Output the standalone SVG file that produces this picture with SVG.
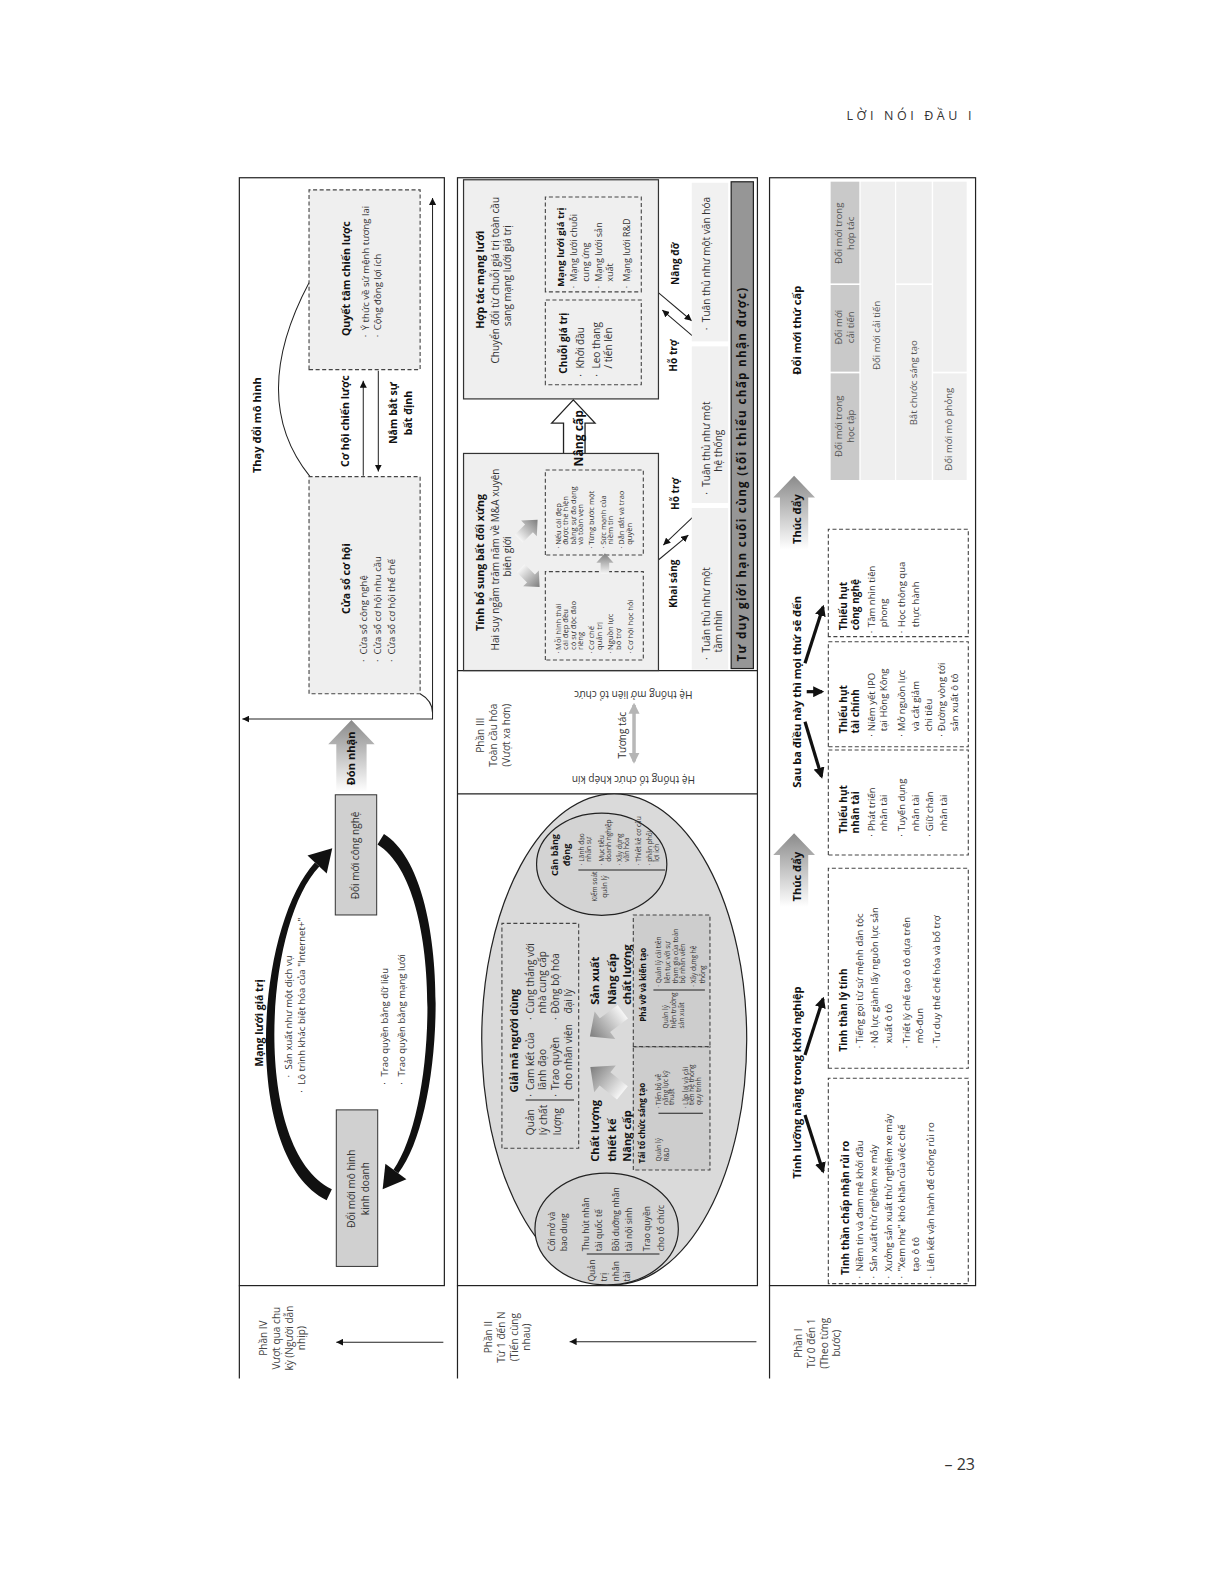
<svg xmlns="http://www.w3.org/2000/svg" width="1224" height="1584" viewBox="0 0 1224 1584">
<style>
text{font-family:"Open Sans","Noto Sans","DejaVu Sans",sans-serif;fill:#333}
.b{font-weight:700;fill:#111}
.m{text-anchor:middle}
.f65{font-size:6.5px}.f75{font-size:7.5px}.f8{font-size:8px}.f85{font-size:8.5px}.f9{font-size:9px}.f95{font-size:9.5px}.f10{font-size:10px}.f105{font-size:10.5px}.f11{font-size:11px}.f12{font-size:12px}
.lab{font-size:10px;fill:#444;text-anchor:middle}
.fr{fill:none;stroke:#222;stroke-width:1.2}
.ln{fill:none;stroke:#222;stroke-width:1}
.dsh{fill:#efefef;stroke:#444;stroke-width:1.1;stroke-dasharray:4 2.5}
.dshw{fill:none;stroke:#444;stroke-width:1.1;stroke-dasharray:4 2.5}
.dshg{fill:#cdcdcd;stroke:#444;stroke-width:1.1;stroke-dasharray:4 2.5}
.sol{fill:#efefef;stroke:#333;stroke-width:1.2}
.gb{fill:#d0d0d0;stroke:#333;stroke-width:1}
.tk{fill:none;stroke:#111;stroke-width:3.2}
.hd{fill:#c9c9c9}.cl{fill:#efefef}
.tt{font-size:9.5px;fill:#555;text-anchor:middle}
</style>
<defs>
<marker id="ah" viewBox="0 0 10 10" refX="10" refY="5" markerWidth="7" markerHeight="7" markerUnits="userSpaceOnUse" orient="auto-start-reverse"><path d="M0,0 L10,5 L0,10 Z" fill="#111"/></marker>
<marker id="ahM" viewBox="0 0 10 10" refX="8" refY="5" markerWidth="9" markerHeight="9" markerUnits="userSpaceOnUse" orient="auto-start-reverse"><path d="M0,0 L10,5 L0,10 Z" fill="#111"/></marker>
<marker id="ahL" viewBox="0 0 10 10" refX="8" refY="5" markerWidth="11" markerHeight="11" markerUnits="userSpaceOnUse" orient="auto"><path d="M0,0 L10,5 L0,10 Z" fill="#111"/></marker>
<marker id="ahG" viewBox="0 0 10 10" refX="8" refY="5" markerWidth="11" markerHeight="11" markerUnits="userSpaceOnUse" orient="auto-start-reverse"><path d="M0,0 L10,5 L0,10 Z" fill="#b5b5b5"/></marker>
<linearGradient id="gBlk" x1="0" y1="0" x2="1" y2="0"><stop offset="0" stop-color="#ffffff"/><stop offset="1" stop-color="#8a8a8a"/></linearGradient>
<linearGradient id="gSm" x1="0" y1="0" x2="1" y2="0"><stop offset="0" stop-color="#f6f6f6"/><stop offset="1" stop-color="#7d7d7d"/></linearGradient>
<path id="sa" d="M-12,-5 L1,-5 L1,-10 L12,0 L1,10 L1,5 L-12,5 Z" fill="url(#gSm)"/>
</defs>

<text x="975" y="120" text-anchor="end" style="font-size:12.5px;letter-spacing:3.6px;fill:#333">LỜI NÓI ĐẦU I</text>
<text x="975" y="1470" text-anchor="end" style="font-size:16px;fill:#333">– 23</text>

<g transform="scale(1.0099)">
<g transform="translate(0,1568) rotate(-90)">

<g id="frames">
<rect class="fr" x="295" y="237" width="1097" height="203"/>
<rect class="fr" x="295" y="453" width="1097" height="297"/>
<rect class="fr" x="295" y="762" width="1097" height="204"/>
<path class="fr" d="M203,237 H295 M203,453 H295 M203,762 H295 M782,453 V750 M904,453 V750"/>
</g>

<g id="labels">
<text class="lab" x="243" y="264">Phần IV</text>
<text class="lab" x="243" y="277">Vượt qua chu</text>
<text class="lab" x="243" y="290">kỳ (Người dẫn</text>
<text class="lab" x="243" y="302.5">nhịp)</text>
<text class="lab" x="244" y="487">Phần II</text>
<text class="lab" x="244" y="500">Từ 1 đến N</text>
<text class="lab" x="244" y="513">(Tiến cùng</text>
<text class="lab" x="244" y="525">nhau)</text>
<text class="lab" x="238" y="794">Phần I</text>
<text class="lab" x="238" y="807">Từ 0 đến 1</text>
<text class="lab" x="238" y="820">(Theo từng</text>
<text class="lab" x="238" y="832">bước)</text>
</g>

<g id="connectors">
<line class="ln" x1="239" y1="439" x2="239" y2="333" marker-end="url(#ah)"/>
<line class="ln" x1="239.5" y1="749" x2="239.5" y2="564" marker-end="url(#ah)"/>
<path class="ln" d="M1096,307 Q1173,245 1288,306"/>
<line class="ln" x1="1097" y1="359.7" x2="1191" y2="359.7" marker-end="url(#ah)"/>
<line class="ln" x1="1201" y1="374.6" x2="1101" y2="374.6" marker-end="url(#ah)"/>
<path class="ln" d="M1372,428.3 H856 V240" marker-start="url(#ah)" marker-end="url(#ah)"/>
<path class="ln" d="M881,416 C876,425 870,428.3 862,428.3"/>
<path fill="#111" d="M379.6,323.4 C421,239 648,251.5 714,311.8 L710,316.2 C652,260.5 429,249 390.4,328.6 Z"/>
<path fill="#111" d="M703.1,323.5 L728.1,329 L720.9,304.5 Z"/>
<path fill="#111" d="M742.1,380.2 C699,449.5 468,442.5 406.2,394.4 L409.8,389.6 C472,433.5 691,440.5 731.9,373.8 Z"/>
<path fill="#111" d="M415.7,381.6 L390.3,378.9 L400.3,402.4 Z"/>
<path d="M1238,538 Q1279,503 1320,535" fill="none" stroke="#111" stroke-width="2.2" marker-start="url(#ahM)" marker-end="url(#ahM)"/>
<path d="M1240,536 Q1279,496 1318,533 Q1279,508 1240,536 Z" fill="#111"/>
<line class="ln" x1="1278.2" y1="651.9" x2="1250.4" y2="684.9" marker-end="url(#ah)"/>
<line class="ln" x1="1234.6" y1="686.5" x2="1261" y2="655.8" marker-end="url(#ah)"/>
<line class="ln" x1="1013.5" y1="651.9" x2="1038.2" y2="681.6" marker-end="url(#ah)"/>
<line class="ln" x1="1056.4" y1="686.5" x2="1028.3" y2="656.8" marker-end="url(#ah)"/>
<line x1="814" y1="627.8" x2="870" y2="627.8" stroke="#b8b8b8" stroke-width="3.5" marker-start="url(#ahG)" marker-end="url(#ahG)"/>
<line class="tk" x1="464" y1="797.1" x2="408" y2="815" marker-end="url(#ahL)"/>
<line class="tk" x1="523.3" y1="797.1" x2="579" y2="815" marker-end="url(#ahL)"/>
<line class="tk" x1="853.4" y1="797.1" x2="799" y2="813.5" marker-end="url(#ahL)"/>
<line class="tk" x1="883.1" y1="798.8" x2="883.1" y2="814" stroke-width="4" marker-end="url(#ahL)"/>
<line class="tk" x1="911.2" y1="797.1" x2="967" y2="815" marker-end="url(#ahL)"/>
</g>

<g id="n-quyet-tam">
<rect class="dsh" x="1202" y="306" width="178" height="110"/>
<text class="b m f105" x="1292" y="347">Quyết tâm chiến lược</text>
<text class="f95" x="1234" y="365">·</text><text class="f95" x="1241" y="365">Ý thức về sứ mệnh tương lai</text>
<text class="f95" x="1234" y="377.5">·</text><text class="f95" x="1241" y="377.5">Cộng đồng lợi ích</text>
</g>
<g id="n-cua-so">
<rect class="dsh" x="881" y="306" width="215" height="110"/>
<text class="b m f105" x="995" y="347">Cửa sổ cơ hội</text>
<text class="f95" x="912.5" y="363.5">·</text><text class="f95" x="920" y="363.5">Cửa sổ công nghệ</text>
<text class="f95" x="912.5" y="377.5">·</text><text class="f95" x="920" y="377.5">Cửa sổ cơ hội nhu cầu</text>
<text class="f95" x="912.5" y="391.5">·</text><text class="f95" x="920" y="391.5">Cửa sổ cơ hội thể chế</text>
</g>
<g id="t-row4">
<text class="b m f11" x="1147" y="258">Thay đổi mô hình</text>
<text class="b m f105" x="1151" y="345.5">Cơ hội chiến lược</text>
<text class="b m f105" x="1159" y="393.5">Nắm bắt sự</text>
<text class="b m f105" x="1159" y="408">bất định</text>
<text class="b m f105" x="555" y="260">Mạng lưới giá trị</text>
<text class="f95" x="501" y="289">·</text><text class="f95" x="509" y="289">Sản xuất như một dịch vụ</text>
<text class="f95" x="486" y="302">·</text><text class="f95" x="494" y="302">Lộ trình khác biệt hóa của "Internet+"</text>
<text class="f95" x="494" y="384.5">·</text><text class="f95" x="502" y="384.5">Trao quyền bằng dữ liệu</text>
<text class="f95" x="494" y="401">·</text><text class="f95" x="502" y="401">Trao quyền bằng mạng lưới</text>
</g>
<g id="n-don-nhan">
<path fill="url(#gBlk)" d="M784,333 L831,333 L831,325 L855,348 L831,371 L831,363 L784,363 Z"/>
<text class="b m f11" x="817" y="352">Đón nhận</text>
</g>
<g id="n-cong-nghe">
<rect class="gb" x="662" y="332" width="119" height="41"/>
<text class="m f10" x="721" y="355.5">Đổi mới công nghệ</text>
</g>
<g id="n-kinh-doanh">
<rect class="gb" x="314" y="333" width="155" height="41"/>
<text class="m f10" x="391" y="352">Đổi mới mô hình</text>
<text class="m f10" x="391" y="365">kinh doanh</text>
</g>

<g id="n-hop-tac">
<rect class="sol" x="1173" y="459" width="217" height="193"/>
<text class="b m f105" x="1291" y="479.5">Hợp tác mạng lưới</text>
<text class="m f10" x="1290.5" y="494">Chuyển đổi từ chuỗi giá trị toàn cầu</text>
<text class="m f10" x="1295" y="505.5">sang mạng lưới giá trị</text>
<rect class="dsh" x="1187" y="540" width="84" height="95"/>
<text class="b f10" x="1198" y="561.5">Chuỗi giá trị</text>
<text class="f10" x="1195" y="578">·</text><text class="f10" x="1203" y="578">Khởi đầu</text>
<text class="f10" x="1195" y="594.6">·</text><text class="f10" x="1203" y="594.6">Leo thang</text>
<text class="f10" x="1203" y="606">/ tiến lên</text>
<rect class="dsh" x="1279" y="540" width="94" height="95"/>
<text class="b f95" x="1284" y="558">Mạng lưới giá trị</text>
<text class="f9" x="1282.5" y="571.2">·</text><text class="f9" x="1289" y="571.2">Mạng lưới chuỗi</text>
<text class="f9" x="1289" y="582.8">cung ứng</text>
<text class="f9" x="1282.5" y="595.9">·</text><text class="f9" x="1289" y="595.9">Mạng lưới sản</text>
<text class="f9" x="1289" y="607.4">xuất</text>
<text class="f9" x="1282.5" y="623.9">·</text><text class="f9" x="1289" y="623.9">Mạng lưới R&amp;D</text>
</g>
<g id="n-nang-cap">
<path d="M1119,558 L1149,558 L1149,546.3 L1172,567.7 L1149,589.2 L1149,579.3 L1119,579.3" fill="#fff" stroke="#222" stroke-width="1.3"/>
</g>
<g id="n-tinh-bo-sung">
<rect class="sol" x="904" y="459" width="215" height="193"/>
<text class="b m f105" x="1011" y="479.5">Tính bổ sung bất đối xứng</text>
<text class="m f10" x="1014" y="494">Hai suy ngẫm trăm năm về M&amp;A xuyên</text>
<text class="m f10" x="1017" y="505.5">biên giới</text>
<rect class="dsh" x="914.5" y="540" width="87.5" height="97"/>
<text class="f75" x="921" y="555.3">·</text><text class="f75" x="924.5" y="555.3">Mỗi hình thái</text>
<text class="f75" x="924.5" y="562.6">cái đẹp đều</text>
<text class="f75" x="924.5" y="570.2">có sự độc đáo</text>
<text class="f75" x="924.5" y="577.5">riêng</text>
<text class="f75" x="921" y="588.4">·</text><text class="f75" x="924.5" y="588.4">Cơ chế</text>
<text class="f75" x="924.5" y="595.7">quản trị</text>
<text class="f75" x="921" y="607.2">·</text><text class="f75" x="924.5" y="607.2">Nguồn lực</text>
<text class="f75" x="924.5" y="614.8">bổ trợ</text>
<text class="f75" x="921" y="626.3">·</text><text class="f75" x="924.5" y="626.3">Cơ hội học hỏi</text>
<rect class="dsh" x="1018.4" y="540" width="84.2" height="97"/>
<text class="f75" x="1025" y="555.3">·</text><text class="f75" x="1028.5" y="555.3">Nếu cái đẹp</text>
<text class="f75" x="1028.5" y="562.6">được thể hiện</text>
<text class="f75" x="1028.5" y="570.2">bằng sự đa dạng</text>
<text class="f75" x="1028.5" y="577.5">và toàn vẹn</text>
<text class="f75" x="1025" y="588.4">·</text><text class="f75" x="1028.5" y="588.4">Từng bước một</text>
<text class="f75" x="1025" y="600">·</text><text class="f75" x="1028.5" y="600">Sức mạnh của</text>
<text class="f75" x="1028.5" y="607.2">niềm tin</text>
<text class="f75" x="1025" y="618.1">·</text><text class="f75" x="1028.5" y="618.1">Dẫn dắt và trao</text>
<text class="f75" x="1028.5" y="625.7">quyền</text>
<use href="#sa" transform="translate(996,525) rotate(135) scale(1.1)"/>
<use href="#sa" transform="translate(1044,523) rotate(45) scale(1.1)"/>
<use href="#sa" transform="translate(1010,599) scale(0.85)"/>
</g>
<text class="b m f12" x="1134" y="577">Nâng cấp</text>

<g id="n-panels">
<rect fill="#f1f1f1" x="1230" y="685" width="157" height="36"/>
<rect fill="#f1f1f1" x="1070" y="685" width="155" height="36"/>
<rect fill="#f1f1f1" x="905" y="685" width="160" height="36"/>
<text class="f10" x="1241" y="703">·</text><text class="f10" x="1249" y="703">Tuân thủ như một văn hóa</text>
<text class="f10" x="1078" y="703">·</text><text class="f10" x="1086" y="703">Tuân thủ như một</text>
<text class="f10" x="1101" y="714.5">hệ thống</text>
<text class="f10" x="914.5" y="703">·</text><text class="f10" x="922" y="703">Tuân thủ như một</text>
<text class="f10" x="922" y="714.5">tầm nhìn</text>
<text class="b m f10" x="1307" y="672">Nâng đỡ</text>
<text class="b m f10" x="1216" y="670.5">Hỗ trợ</text>
<text class="b m f10" x="1079" y="672">Hỗ trợ</text>
<text class="b m f10" x="990" y="670.5">Khai sáng</text>
</g>
<g id="n-bar">
<rect x="906" y="724" width="482" height="22" fill="#969696" stroke="#222" stroke-width="1.2"/>
<text class="b m" style="font-size:11.5px" x="1098" y="739" textLength="370" lengthAdjust="spacing">Tư duy giới hạn cuối cùng (tối thiểu chấp nhận được)</text>
</g>

<g id="n-phan3">
<text class="lab" x="840" y="479">Phần III</text>
<text class="lab" x="840" y="492">Toàn cầu hóa</text>
<text class="lab" x="840" y="505">(Vượt xa hơn)</text>
<text class="m f10" x="840" y="619.5">Tương tác</text>
</g>

<g id="n-oval">
<ellipse cx="539" cy="608.2" rx="243" ry="131.2" fill="#dadada" stroke="#222" stroke-width="1.2"/>
</g>
<g id="n-can-bang">
<ellipse cx="712.3" cy="595.8" rx="50.6" ry="64.5" fill="#d3d3d3" stroke="#222" stroke-width="1.2"/>
<text class="b m f9" x="721.4" y="553">Cân bằng</text>
<text class="b m f9" x="721.4" y="564.5">động</text>
<text class="m f65" x="690" y="591.5">Kiểm soát</text>
<text class="m f65" x="690" y="600.8">quản lý</text>
<line class="ln" x1="706.5" y1="572.7" x2="706.5" y2="658.5"/>
<text class="f65" x="711" y="578.3">·</text><text class="f65" x="714.8" y="578.3">Lãnh đạo</text>
<text class="f65" x="714.8" y="584.9">nhân sự</text>
<text class="f65" x="711" y="598">·</text><text class="f65" x="714.8" y="598">Mục tiêu</text>
<text class="f65" x="714.8" y="604.6">doanh nghiệp</text>
<text class="f65" x="711" y="616">·</text><text class="f65" x="714.8" y="616">Xây dựng</text>
<text class="f65" x="714.8" y="622.6">văn hóa</text>
<text class="f65" x="711" y="634.3">·</text><text class="f65" x="714.8" y="634.3">Thiết kế cơ cấu</text>
<text class="f65" x="711" y="645.8">·</text><text class="f65" x="714.8" y="645.8">phân phối</text>
<text class="f65" x="714.8" y="652.4">lợi ích</text>
</g>
<g id="n-nhan-tai">
<ellipse cx="351" cy="600.7" rx="55.3" ry="71" fill="#d3d3d3" stroke="#222" stroke-width="1.2"/>
<text class="f85" x="299" y="589.4">Quản</text>
<text class="f85" x="299" y="601">trị</text>
<text class="f85" x="299" y="612.5">nhân</text>
<text class="f85" x="299" y="624">tài</text>
<line class="ln" x1="326.3" y1="581" x2="326.3" y2="653"/>
<text class="f85" x="329" y="549.8">Cởi mở và</text>
<text class="f85" x="329" y="561.3">bao dung</text>
<text class="f85" x="329" y="582.8">Thu hút nhân</text>
<text class="f85" x="329" y="596">tài quốc tế</text>
<text class="f85" x="329" y="612.5">Bồi dưỡng nhân</text>
<text class="f85" x="329" y="625.7">tài nội sinh</text>
<text class="f85" x="329" y="643.8">Trao quyền</text>
<text class="f85" x="329" y="657">cho tổ chức</text>
</g>
<g id="n-giai-ma">
<rect class="dshw" x="431" y="497" width="222.7" height="76"/>
<text class="b m f105" x="537.5" y="512.5">Giải mã người dùng</text>
<text class="f10" x="444" y="528.8">Quản</text>
<text class="f10" x="444" y="542">lý chất</text>
<text class="f10" x="444" y="555.2">lượng</text>
<line class="ln" x1="478.8" y1="520.5" x2="478.8" y2="568.4"/>
<text class="f10" x="482" y="528.8">·</text><text class="f10" x="488.7" y="528.8">Cam kết của</text>
<text class="f10" x="488.7" y="540.3">lãnh đạo</text>
<text class="f10" x="482" y="553.5">·</text><text class="f10" x="488.7" y="553.5">Trao quyền</text>
<text class="f10" x="488.7" y="566.8">cho nhân viên</text>
<text class="f10" x="558" y="528.8">·</text><text class="f10" x="564.5" y="528.8">Cùng thắng với</text>
<text class="f10" x="564.5" y="540.3">nhà cung cấp</text>
<text class="f10" x="558" y="553.5">·</text><text class="f10" x="564.5" y="553.5">Đồng bộ hóa</text>
<text class="f10" x="564.5" y="566.8">đại lý</text>
</g>
<g id="n-chat-luong">
<text class="b f11" x="417.7" y="593">Chất lượng</text>
<text class="b f11" x="417.7" y="609.5">thiết kế</text>
<text class="b f11" x="417.7" y="624.5">Nâng cấp</text>
<use href="#sa" transform="translate(498.6,600.4) rotate(-51) scale(1.7)"/>
</g>
<g id="n-san-xuat">
<text class="b f11" x="573" y="593">Sản xuất</text>
<text class="b f11" x="573" y="609.5">Nâng cấp</text>
<text class="b f11" x="573" y="624.5">chất lượng</text>
<use href="#sa" transform="translate(553.9,600.4) rotate(-127) scale(1.7)"/>
</g>
<g id="n-tai-to-chuc">
<rect class="dshg" x="409.5" y="627.1" width="122.1" height="75.9"/>
<text class="b f8" x="416" y="638.5">Tái tổ chức sáng tạo</text>
<text class="f65" x="418" y="654.5">Quản lý</text>
<text class="f65" x="418" y="662.8">R&amp;D</text>
<line class="ln" x1="465.6" y1="652" x2="465.6" y2="696"/>
<text class="f65" x="470.5" y="654.5">·</text><text class="f65" x="473.8" y="654.5">Tiến bộ về</text>
<text class="f65" x="473.8" y="661">năng lực kỹ</text>
<text class="f65" x="473.8" y="667.7">thuật</text>
<text class="f65" x="470.5" y="681">·</text><text class="f65" x="473.8" y="681">Lặp lại và cải</text>
<text class="f65" x="473.8" y="687.5">tiến hệ thống</text>
<text class="f65" x="473.8" y="694">quy trình</text>
</g>
<g id="n-pha-vo">
<rect class="dshg" x="531.6" y="627.1" width="130.4" height="75.9"/>
<text class="b f8" x="556.3" y="639.5">Phá vỡ và kiến tạo</text>
<text class="f65" x="549.7" y="661.2">Quản lý</text>
<text class="f65" x="549.7" y="669.5">hiện trường</text>
<text class="f65" x="549.7" y="677.7">sản xuất</text>
<line class="ln" x1="587.7" y1="647" x2="587.7" y2="698"/>
<text class="f65" x="591" y="654.5">·</text><text class="f65" x="594.3" y="654.5">Quản lý cải tiến</text>
<text class="f65" x="594.3" y="663">liên tục với sự</text>
<text class="f65" x="594.3" y="671.2">tham gia của toàn</text>
<text class="f65" x="594.3" y="678.5">bộ nhân viên</text>
<text class="f65" x="591" y="689.5">·</text><text class="f65" x="594.3" y="689.5">Xây dựng hệ</text>
<text class="f65" x="594.3" y="697.8">thống</text>
</g>

<g id="n-row1-titles">
<text class="b m f11" x="496" y="793.5">Tính lưỡng năng trong khởi nghiệp</text>
<text class="b m f11" x="883" y="793">Sau ba điều này thì mọi thứ sẽ đến</text>
<text class="b m f11" x="1241" y="793">Đổi mới thứ cấp</text>
</g>
<g id="n-rui-ro">
<rect class="dshw" x="297" y="820.2" width="203.3" height="138.6"/>
<text class="b f10" x="305.5" y="840.5">Tinh thần chấp nhận rủi ro</text>
<text class="f95" x="302" y="855">·</text><text class="f95" x="309" y="855">Niềm tin và đam mê khởi đầu</text>
<text class="f95" x="302" y="868.3">·</text><text class="f95" x="309" y="868.3">Sản xuất thử nghiệm xe máy</text>
<text class="f95" x="302" y="883.2">·</text><text class="f95" x="309" y="883.2">Xưởng sản xuất thử nghiệm xe máy</text>
<text class="f95" x="302" y="896.4">·</text><text class="f95" x="309" y="896.4">"Xem nhẹ" khó khăn của việc chế</text>
<text class="f95" x="309" y="909.6">tạo ô tô</text>
<text class="f95" x="302" y="924.4">·</text><text class="f95" x="309" y="924.4">Liên kết vận hành để chống rủi ro</text>
</g>
<g id="n-ly-tinh">
<rect class="dshw" x="510.2" y="820.2" width="198" height="138.6"/>
<text class="b f10" x="526.6" y="838.5">Tinh thần lý tính</text>
<text class="f95" x="530" y="855">·</text><text class="f95" x="535" y="855">Tiếng gọi từ sứ mệnh dân tộc</text>
<text class="f95" x="530" y="869.7">·</text><text class="f95" x="535" y="869.7">Nỗ lực giành lấy nguồn lực sản</text>
<text class="f95" x="535" y="883">xuất ô tô</text>
<text class="f95" x="530" y="901">·</text><text class="f95" x="535" y="901">Triết lý chế tạo ô tô dựa trên</text>
<text class="f95" x="535" y="914.3">mô-đun</text>
<text class="f95" x="530" y="930.8">·</text><text class="f95" x="535" y="930.8">Tư duy thể chế hóa và bổ trợ</text>
</g>
<g id="n-thuc-day-1">
<path fill="url(#gBlk)" d="M670,772.3 L721.4,772.3 L721.4,765.7 L743,786.3 L721.4,807 L721.4,800.3 L670,800.3 Z"/>
<text class="b m f11" x="700" y="793">Thúc đẩy</text>
</g>
<g id="n-thieu-nhan-tai">
<rect class="dshw" x="721.4" y="820.2" width="104" height="138.6"/>
<text class="b f10" x="742.8" y="839">Thiếu hụt</text>
<text class="b f10" x="742.8" y="850.5">nhân tài</text>
<text class="f95" x="739.5" y="866.6">·</text><text class="f95" x="745" y="866.6">Phát triển</text>
<text class="f95" x="745" y="878">nhân tài</text>
<text class="f95" x="739.5" y="896.3">·</text><text class="f95" x="745" y="896.3">Tuyển dụng</text>
<text class="f95" x="745" y="909.5">nhân tài</text>
<text class="f95" x="739.5" y="924.3">·</text><text class="f95" x="745" y="924.3">Giữ chân</text>
<text class="f95" x="745" y="937.5">nhân tài</text>
</g>
<g id="n-thieu-tai-chinh">
<rect class="dshw" x="828.6" y="820.2" width="104" height="138.6"/>
<text class="b f10" x="841.8" y="839">Thiếu hụt</text>
<text class="b f10" x="841.8" y="850.5">tài chính</text>
<text class="f95" x="838.5" y="866.6">·</text><text class="f95" x="844" y="866.6">Niêm yết IPO</text>
<text class="f95" x="844" y="878">tại Hồng Kông</text>
<text class="f95" x="838.5" y="896.3">·</text><text class="f95" x="844" y="896.3">Mở nguồn lực</text>
<text class="f95" x="844" y="909.5">và cắt giảm</text>
<text class="f95" x="844" y="922.7">chi tiêu</text>
<text class="f95" x="838.5" y="935.9">·</text><text class="f95" x="844" y="935.9">Đường vòng tới</text>
<text class="f95" x="844" y="949.1">sản xuất ô tô</text>
</g>
<g id="n-thieu-cong-nghe">
<rect class="dshw" x="937.6" y="820.2" width="106.4" height="138.6"/>
<text class="b f10" x="944" y="839">Thiếu hụt</text>
<text class="b f10" x="944" y="850.5">công nghệ</text>
<text class="f95" x="941" y="866.6">·</text><text class="f95" x="947" y="866.6">Tầm nhìn tiên</text>
<text class="f95" x="947" y="878">phong</text>
<text class="f95" x="941" y="896.3">·</text><text class="f95" x="947" y="896.3">Học thông qua</text>
<text class="f95" x="947" y="909.5">thực hành</text>
</g>
<g id="n-thuc-day-2">
<path fill="url(#gBlk)" d="M1024,772.3 L1075.4,772.3 L1075.4,765.7 L1097,786.3 L1075.4,807 L1075.4,800.3 L1024,800.3 Z"/>
<text class="b m f11" x="1054" y="793">Thúc đẩy</text>
</g>
<g id="n-table">
<rect class="hd" x="1092.7" y="822.5" width="105.6" height="28.4"/>
<rect class="hd" x="1200" y="822.5" width="85.8" height="28.4"/>
<rect class="hd" x="1287.4" y="822.5" width="100.7" height="28.4"/>
<rect class="cl" x="1092.7" y="852.2" width="295.4" height="34"/>
<rect class="cl" x="1092.7" y="887.4" width="193.1" height="35.2"/>
<rect class="cl" x="1287.4" y="887.4" width="100.7" height="35.2"/>
<rect class="cl" x="1092.7" y="924" width="105.6" height="33.2"/>
<rect class="cl" x="1200" y="924" width="188.1" height="33.2"/>
<text class="tt" x="1146" y="833.6">Đổi mới trong</text>
<text class="tt" x="1146" y="845.2">học tập</text>
<text class="tt" x="1244" y="833.6">Đổi mới</text>
<text class="tt" x="1244" y="845.2">cải tiến</text>
<text class="tt" x="1337" y="833.6">Đổi mới trong</text>
<text class="tt" x="1337" y="845.2">hợp tác</text>
<text class="tt" x="1236" y="871.6">Đổi mới cải tiến</text>
<text class="tt" x="1189" y="907.9">Bắt chước sáng tạo</text>
<text class="tt" x="1143" y="942.5">Đổi mới mô phỏng</text>
</g>

</g>
<text class="m f10" transform="translate(627.1,688.2) rotate(180)" y="3.5">Hệ thống mở liên tổ chức</text>
<text class="m f10" transform="translate(627.1,771.7) rotate(180)" y="3.5">Hệ thống tổ chức khép kín</text>
</g>
</svg>
